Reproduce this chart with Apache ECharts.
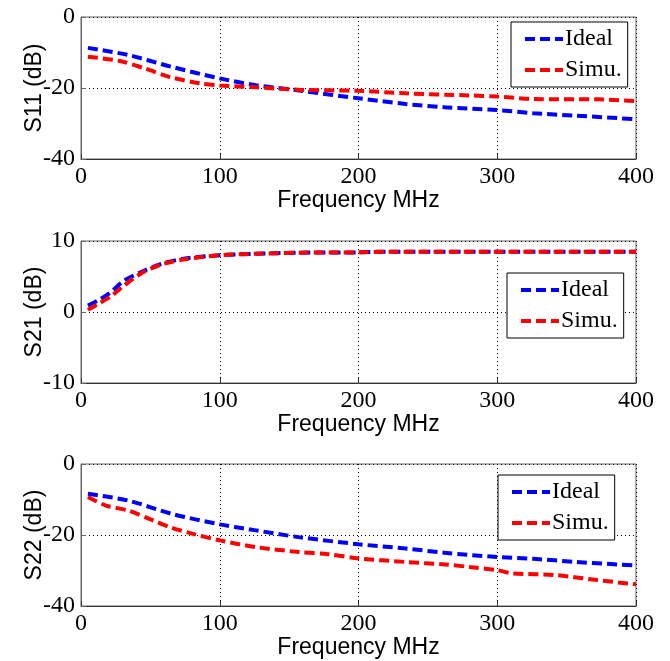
<!DOCTYPE html>
<html><head><meta charset="utf-8">
<script src="https://cdn.jsdelivr.net/npm/echarts@6/dist/echarts.min.js"></script>
<style>html,body{margin:0;padding:0;background:#fff}#c{width:670px;height:661px}</style>
</head><body><div id="c"></div>
<script>
// Frequencies (MHz) and values (dB)
const s11IdealFreq = [5, 34, 65, 100, 126, 157, 200, 234, 262, 300, 326, 357, 400];
const s11IdealVal  = [-8.7, -10.7, -14, -17.3, -19.2, -20.7, -22.9, -24.5, -25.4, -26.2, -27.1, -27.8, -28.8];
const s11SimuFreq  = [5, 28, 46, 65, 86, 100, 126, 157, 200, 234, 280, 300, 326, 372, 400];
const s11SimuVal   = [-11.2, -12.4, -14.5, -17, -18.7, -19.3, -19.8, -20.5, -20.8, -21.5, -22.1, -22.4, -23.1, -23.2, -23.7];

const s21IdealFreq = [5, 12, 21.5, 31, 43, 58, 74, 100, 126, 157, 200, 220, 300, 400];
const s21IdealVal  = [0.9, 1.6, 2.8, 4.4, 5.6, 6.8, 7.5, 8.0, 8.2, 8.35, 8.4, 8.5, 8.5, 8.5];
const s21SimuFreq  = [5, 12, 21.5, 31, 43, 58, 74, 100, 126, 157, 200, 220, 300, 400];
const s21SimuVal   = [0.3, 1.1, 2.2, 3.7, 5.4, 6.7, 7.4, 8.0, 8.2, 8.35, 8.4, 8.5, 8.5, 8.5];

const s22IdealFreq = [5, 34, 65, 100, 126, 157, 200, 234, 262, 300, 326, 357, 400];
const s22IdealVal  = [-8.4, -10.3, -14, -17, -18.7, -20.6, -22.6, -23.8, -25, -26.2, -26.7, -27.6, -28.6];
const s22SimuFreq  = [5, 18, 34, 52, 65, 80, 100, 126, 157, 178, 200, 234, 262, 280, 300, 311, 342, 372, 400];
const s22SimuVal   = [-9.3, -11.7, -13.1, -15.9, -17.9, -19.6, -21.5, -23.4, -24.8, -25.4, -26.6, -27.6, -28.3, -29, -29.9, -30.8, -31.3, -32.7, -33.9];

const xTicks = [0, 100, 200, 300, 400];
const yLabels = ['S11 (dB)', 'S21 (dB)', 'S22 (dB)'];
const yRanges = [[-40, 0, 20], [-10, 10, 10], [-40, 0, 20]];
const seriesNames = ['Ideal', 'Simu.'];

const zip = (xs, ys) => xs.map((x, i) => [x, ys[i]]);
const chart = echarts.init(document.getElementById('c'), null, {renderer: 'canvas'});

const tops = [17, 241, 464];
const legendPos = [[511, 22], [507, 273], [498, 475]];
const serif = 'Liberation Serif';
const sans = 'Liberation Sans';
const dotted = {color: '#000', width: 1, type: [1, 3]};

const grids = tops.map(t => ({left: 81, top: t, width: 555, height: 142, show: true, borderColor: '#666', borderWidth: 1, backgroundColor: 'transparent'}));

const xAxes = tops.map((t, i) => ({
  type: 'value', gridIndex: i, min: xTicks[0], max: xTicks[xTicks.length - 1], interval: 100,
  name: 'Frequency MHz', nameLocation: 'middle', nameGap: 30, nameMoveOverlap: false,
  nameTextStyle: {fontFamily: sans, fontSize: 23, color: '#000'},
  axisLine: {show: true, onZero: false, lineStyle: {color: '#333', width: 1}},
  axisTick: {show: true, inside: true, length: 5, lineStyle: {color: '#333'}},
  axisLabel: {fontFamily: serif, fontSize: 24, color: '#000', margin: 6},
  splitLine: {show: true, lineStyle: dotted}
}));

const yAxes = tops.map((t, i) => ({
  type: 'value', gridIndex: i, min: yRanges[i][0], max: yRanges[i][1], interval: yRanges[i][2],
  name: yLabels[i], nameLocation: 'middle', nameGap: 35, nameRotate: 90, nameMoveOverlap: false,
  nameTextStyle: {fontFamily: sans, fontSize: 23, color: '#000'},
  axisLine: {show: true, onZero: false, lineStyle: {color: '#666', width: 1}},
  axisTick: {show: true, inside: true, length: 5, lineStyle: {color: '#666'}},
  axisLabel: {fontFamily: serif, fontSize: 24, color: '#000', margin: 6},
  splitLine: {show: true, lineStyle: dotted}
}));

const dataSets = [
  [zip(s11IdealFreq, s11IdealVal), zip(s11SimuFreq, s11SimuVal)],
  [zip(s21IdealFreq, s21IdealVal), zip(s21SimuFreq, s21SimuVal)],
  [zip(s22IdealFreq, s22IdealVal), zip(s22SimuFreq, s22SimuVal)]
];
const colors = ['#0000ff', '#ff0000'];

const series = [];
dataSets.forEach((pair, gi) => {
  pair.forEach((data, si) => {
    series.push({
      type: 'line', name: seriesNames[si], xAxisIndex: gi, yAxisIndex: gi,
      data: data, showSymbol: false, symbol: 'none', smooth: 0.3,
      color: colors[si],
      lineStyle: {color: colors[si], width: 4, type: [10, 5]},
      z: 3 + si
    });
  });
});

const legends = legendPos.map(p => ({
  left: p[0], top: p[1], orient: 'vertical',
  data: seriesNames,
  backgroundColor: '#fff', borderColor: '#000', borderWidth: 1,
  padding: [5, 6, 5, 12], itemWidth: 38, itemHeight: 24, itemGap: 7,
  selectedMode: false,
  itemStyle: {opacity: 0},
  lineStyle: {width: 4, type: [10, 5]},
  textStyle: {fontFamily: serif, fontSize: 24, color: '#000', lineHeight: 24, padding: [0, 0, 0, -3]}
}));

chart.setOption({
  animation: false,
  backgroundColor: '#fff',
  grid: grids, xAxis: xAxes, yAxis: yAxes, legend: legends, series: series
});
</script></body></html>
